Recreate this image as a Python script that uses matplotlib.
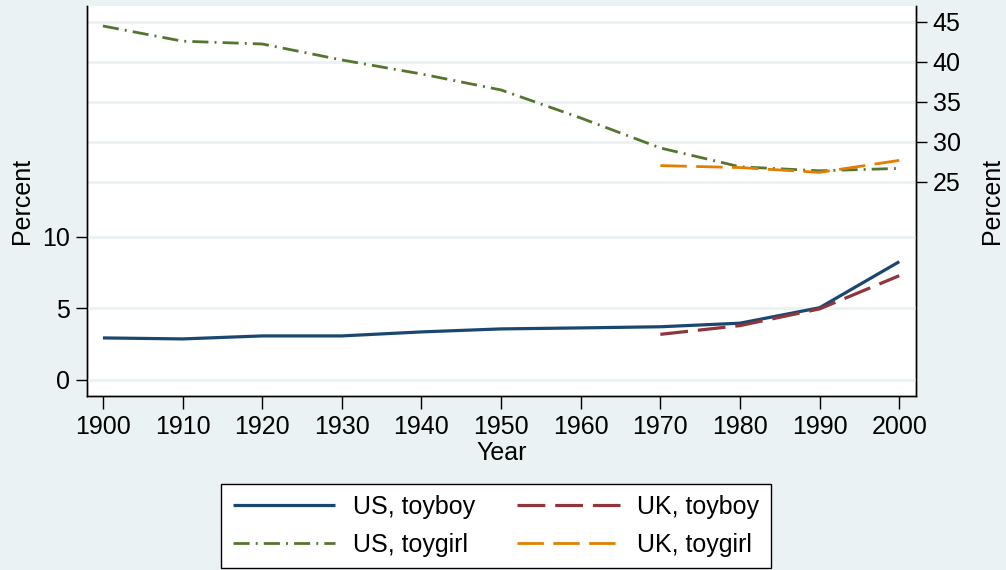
import matplotlib
matplotlib.use("Agg")
import matplotlib.pyplot as plt

years = [1900, 1910, 1920, 1930, 1940, 1950, 1960, 1970, 1980, 1990, 2000]
us_toyboy = [2.94, 2.87, 3.08, 3.08, 3.36, 3.57, 3.64, 3.72, 3.97, 5.05, 8.27]
us_toygirl = [44.5, 42.6, 42.25, 40.25, 38.5, 36.5, 33.0, 29.25, 26.9, 26.4, 26.7]
uk_years = [1970, 1980, 1990, 2000]
uk_toyboy = [3.19, 3.8, 4.97, 7.29]
uk_toygirl = [27.05, 26.8, 26.2, 27.7]

x_ticks = [1900, 1910, 1920, 1930, 1940, 1950, 1960, 1970, 1980, 1990, 2000]
left_ticks = [0, 5, 10]
right_ticks = [25, 30, 35, 40, 45]

BG = "#eaf2f3"
NAVY = "#1a476f"
MAROON = "#90353b"
GREEN = "#55752f"
ORANGE = "#e37e00"

plt.rcParams['font.family'] = ['Liberation Sans', 'DejaVu Sans']
FS = 18

fig = plt.figure(figsize=(10.06, 5.70), dpi=100, facecolor=BG)
ax2 = fig.add_axes([0.0865, 0.3053, 0.824, 0.6842])
ax = ax2.twinx()
ax.yaxis.set_ticks_position('left')
ax.yaxis.set_label_position('left')
ax2.yaxis.set_ticks_position('right')
ax2.yaxis.set_label_position('right')

ax.set_zorder(2)
ax.patch.set_visible(False)
ax2.set_facecolor('white')

ax.set_xlim(1898, 2002.1)
ax.set_ylim(-1.12, 26.15)
ax2.set_ylim(-1.75, 47.0)

ax.set_yticks(left_ticks)
ax2.set_yticks(right_ticks)
ax2.set_xticks(x_ticks)
ax.set_xticks(x_ticks)

ax.grid(axis='y', color=BG, linewidth=2, zorder=0)
ax2.grid(axis='y', color=BG, linewidth=2, zorder=0)
ax.grid(axis='x', visible=False)
ax2.grid(axis='x', visible=False)

l1, = ax.plot(years, us_toyboy, color=NAVY, lw=2.3, solid_capstyle='butt', label='US, toyboy')
l3, = ax.plot(uk_years, uk_toyboy, color=MAROON, lw=2.3, dashes=(8.7, 3.1), label='UK, toyboy')
l2, = ax2.plot(years, us_toygirl, color=GREEN, lw=2.0, dashes=(5.8, 2.2, 0.7, 2.2), label='US, toygirl')
l4, = ax2.plot(uk_years, uk_toygirl, color=ORANGE, lw=2.0, dashes=(9.5, 3.4), label='UK, toygirl')

for a in (ax, ax2):
    a.spines['top'].set_visible(False)
    for s in ('left', 'right', 'bottom'):
        a.spines[s].set_color('black')
        a.spines[s].set_linewidth(1.0)
    a.tick_params(axis='both', labelsize=FS, length=8, width=1, direction='out', pad=4)

ax.set_ylabel('Percent', fontsize=FS, labelpad=6)
ax2.set_ylabel('Percent', fontsize=FS, labelpad=14)
ax2.set_xlabel('Year', fontsize=FS, labelpad=1)
ax2.tick_params(axis='x', length=9, pad=5)
ax.tick_params(axis='x', labelbottom=False, length=0)

leg = fig.legend(handles=[l1, l2, l3, l4], labels=['US, toyboy', 'US, toygirl', 'UK, toyboy', 'UK, toygirl'],
                 ncol=2, loc='center', bbox_to_anchor=(0.493, 0.0772), fontsize=FS,
                 frameon=True, fancybox=False, edgecolor='black', facecolor='white',
                 framealpha=1, handlelength=4.1, columnspacing=1.7, labelspacing=0.55,
                 borderpad=0.45, handletextpad=0.7)
leg.get_frame().set_linewidth(1.0)

fig.savefig('out.png', dpi=100, facecolor=BG)
